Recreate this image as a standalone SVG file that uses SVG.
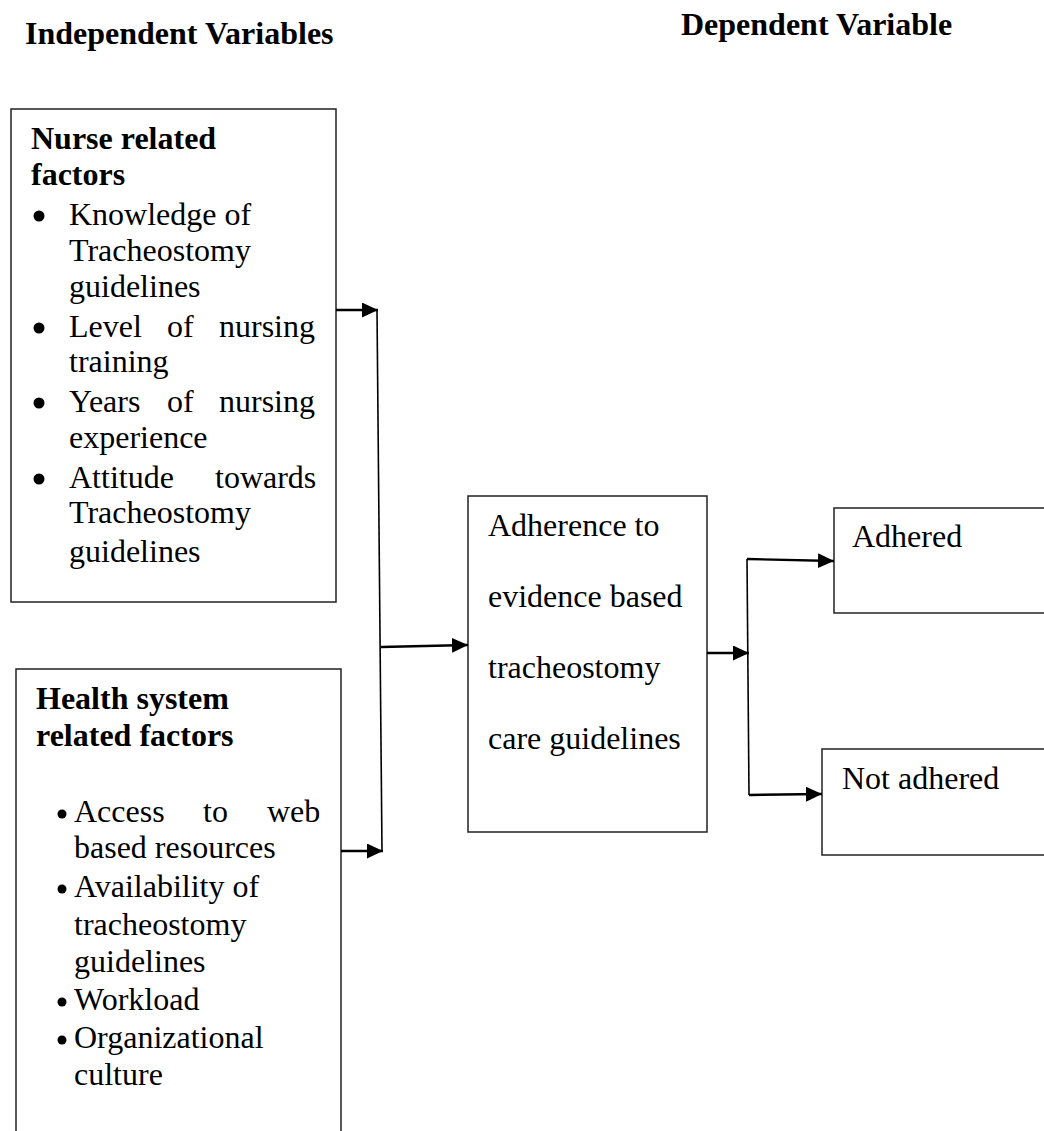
<svg xmlns="http://www.w3.org/2000/svg" width="1044" height="1131" viewBox="0 0 1044 1131">
<style>
  text { font-family: "Liberation Serif", "Times New Roman", serif; font-size: 32px; fill: #000; }
  .b { font-weight: bold; }
  .box { fill: #fff; stroke: #222; stroke-width: 1.5; }
  .dot { fill: #000; }
  .arr { fill: none; stroke: #000; stroke-width: 2.4; }
  .ln { fill: none; stroke: #000; stroke-width: 1.6; }
</style>
<defs>
  <marker id="ah" markerUnits="userSpaceOnUse" markerWidth="18" markerHeight="18" refX="16" refY="7.5" orient="auto">
    <path d="M0,0 L16,7.5 L0,15 z" fill="#000"/>
  </marker>
</defs>
<rect x="0" y="0" width="1044" height="1131" fill="#fff"/>

<g id="headers">
  <text class="b" x="25" y="44">Independent Variables</text>
  <text class="b" x="681" y="35">Dependent Variable</text>
</g>

<g id="nurse-factors">
  <rect class="box" x="11" y="109" width="325" height="493"/>
  <text class="b" x="31" y="149">Nurse related</text>
  <text class="b" x="31" y="185">factors</text>
  <circle class="dot" cx="39" cy="216" r="5.5"/>
  <text x="69" y="225">Knowledge of</text>
  <text x="69" y="261">Tracheostomy</text>
  <text x="69" y="297">guidelines</text>
  <circle class="dot" cx="39" cy="328" r="5.5"/>
  <text y="337"><tspan x="69">Level</tspan><tspan x="167">of</tspan><tspan x="219">nursing</tspan></text>
  <text x="69" y="372">training</text>
  <circle class="dot" cx="39" cy="403" r="5.5"/>
  <text y="412"><tspan x="69">Years</tspan><tspan x="167">of</tspan><tspan x="219">nursing</tspan></text>
  <text x="69" y="448">experience</text>
  <circle class="dot" cx="39" cy="479" r="5.5"/>
  <text y="488"><tspan x="69">Attitude</tspan><tspan x="215">towards</tspan></text>
  <text x="69" y="523">Tracheostomy</text>
  <text x="69" y="562">guidelines</text>
</g>

<g id="health-factors">
  <rect class="box" x="16" y="669" width="325" height="500"/>
  <text class="b" x="36" y="709">Health system</text>
  <text class="b" x="36" y="746">related factors</text>
  <circle class="dot" cx="62" cy="814" r="4.5"/>
  <text y="822"><tspan x="74">Access</tspan><tspan x="203">to</tspan><tspan x="267">web</tspan></text>
  <text x="74" y="858">based resources</text>
  <circle class="dot" cx="62" cy="889" r="4.5"/>
  <text x="74" y="897">Availability of</text>
  <text x="74" y="935">tracheostomy</text>
  <text x="74" y="972">guidelines</text>
  <circle class="dot" cx="62" cy="1002" r="4.5"/>
  <text x="74" y="1010">Workload</text>
  <circle class="dot" cx="62" cy="1040" r="4.5"/>
  <text x="74" y="1048">Organizational</text>
  <text x="74" y="1085">culture</text>
</g>

<g id="adherence">
  <rect class="box" x="468" y="496" width="239" height="336"/>
  <text x="488" y="536">Adherence to</text>
  <text x="488" y="607">evidence based</text>
  <text x="488" y="678">tracheostomy</text>
  <text x="488" y="749">care guidelines</text>
</g>

<g id="adhered">
  <rect class="box" x="834" y="508" width="230" height="105"/>
  <text x="852" y="547">Adhered</text>
</g>

<g id="not-adhered">
  <rect class="box" x="822" y="749" width="242" height="106"/>
  <text x="842" y="789">Not adhered</text>
</g>

<g id="connectors">
  <line class="ln" x1="377" y1="310" x2="382" y2="851"/>
  <line class="arr" x1="336" y1="310" x2="378" y2="310" marker-end="url(#ah)"/>
  <line class="arr" x1="341" y1="851" x2="383" y2="851" marker-end="url(#ah)"/>
  <line class="arr" x1="381" y1="647" x2="468" y2="645" marker-end="url(#ah)"/>
  <line class="ln" x1="747" y1="559" x2="749" y2="795"/>
  <line class="arr" x1="707" y1="653" x2="749" y2="653" marker-end="url(#ah)"/>
  <line class="arr" x1="747" y1="559" x2="834" y2="561" marker-end="url(#ah)"/>
  <line class="arr" x1="749" y1="795" x2="822" y2="794" marker-end="url(#ah)"/>
</g>
</svg>
